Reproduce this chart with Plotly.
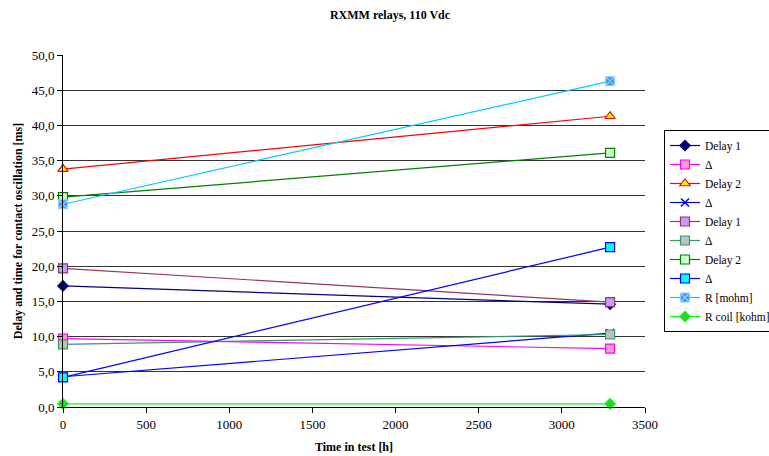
import plotly.graph_objects as go

hours = [0, 3290]
names = ["Delay 1", "Δ", "Delay 2", "Δ", "Delay 1", "Δ", "Delay 2", "Δ", "R [mohm]", "R coil [kohm]"]
delay1_a = [17.2, 14.6]
delta_a = [9.7, 8.3]
delay2_a = [33.8, 41.3]
delta_b = [4.3, 10.5]
delay1_b = [19.7, 14.9]
delta_c = [8.9, 10.3]
delay2_b = [29.8, 36.1]
delta_d = [4.2, 22.7]
r_mohm = [28.8, 46.3]
r_coil = [0.45, 0.45]

series = [delay1_a, delta_a, delay2_a, delta_b, delay1_b, delta_c, delay2_b, delta_d, r_mohm, r_coil]
styles = [
    dict(line="#000080", sym="diamond", fill="#000080", edge="#000080", size=8),
    dict(line="#FF00FF", sym="square", fill="#FF99CC", edge="#FF00FF", size=9),
    dict(line="#FF0000", sym="triangle-up", fill="#FFFF00", edge="#FF0000", size=9),
    dict(line="#0000FF", sym="x-thin", fill="#0000FF", edge="#0000FF", size=8),
    dict(line="#993366", sym="square", fill="#CC99FF", edge="#993366", size=9),
    dict(line="#339966", sym="square", fill="#C0C0C0", edge="#339966", size=9),
    dict(line="#008000", sym="square", fill="#CCFFCC", edge="#008000", size=9),
    dict(line="#0000FF", sym="square", fill="#00FFFF", edge="#0000FF", size=9),
    dict(line="#00CCFF", sym="square-x", fill="#3399FF", edge="#99CCFF", size=9),
    dict(line="#00FF00", sym="diamond", fill="#33CC33", edge="#00FF00", size=8),
]

fig = go.Figure()
for name, vals, st in zip(names, series, styles):
    mk = dict(symbol=st["sym"], size=st["size"], color=st["fill"],
              line=dict(color=st["edge"], width=1.2))
    if st["sym"] == "x-thin":
        mk["line"] = dict(color=st["edge"], width=1.5)
    fig.add_trace(go.Scatter(x=hours, y=vals, name=name, mode="lines+markers",
                             cliponaxis=False,
                             line=dict(color=st["line"], width=1.2), marker=mk))

fnt = "Liberation Serif"
fig.update_layout(
    width=769, height=456,
    margin=dict(l=63, r=124, t=55, b=49, autoexpand=False),
    paper_bgcolor="white", plot_bgcolor="white",
    font=dict(family=fnt, size=13, color="black"),
    separators=",.",
    title=dict(text="<b>RXMM relays, 110 Vdc</b>", x=390/769, xanchor="center",
               y=1 - 15/456, yanchor="middle", font=dict(family=fnt, size=12)),
    xaxis=dict(range=[0, 3500], dtick=500, tickformat="d", showgrid=False,
               showline=True, linecolor="black", linewidth=1, ticks="outside",
               ticklen=5, tickcolor="black", zeroline=False,
               tickfont=dict(family=fnt, size=13),
               title=dict(text="<b>Time in test [h]</b>", font=dict(family=fnt, size=12), standoff=12)),
    yaxis=dict(range=[0, 50], dtick=5, tickformat=".1f", showgrid=True,
               gridcolor="#333333", gridwidth=1, showline=True, linecolor="black",
               linewidth=1, ticks="outside", ticklen=5, tickcolor="black",
               zeroline=False, tickfont=dict(family=fnt, size=13),
               title=dict(text="<b>Delay and time for contact oscillation [ms]</b>",
                          font=dict(family=fnt, size=12), standoff=6)),
    legend=dict(x=(664 - 63) / 582, y=(407 - 130) / 352, xanchor="left", yanchor="top",
                bordercolor="black", borderwidth=1, bgcolor="white",
                font=dict(family=fnt, size=11.5), itemwidth=30, tracegroupgap=0),
    showlegend=True,
)

fig.write_html("out.html")
